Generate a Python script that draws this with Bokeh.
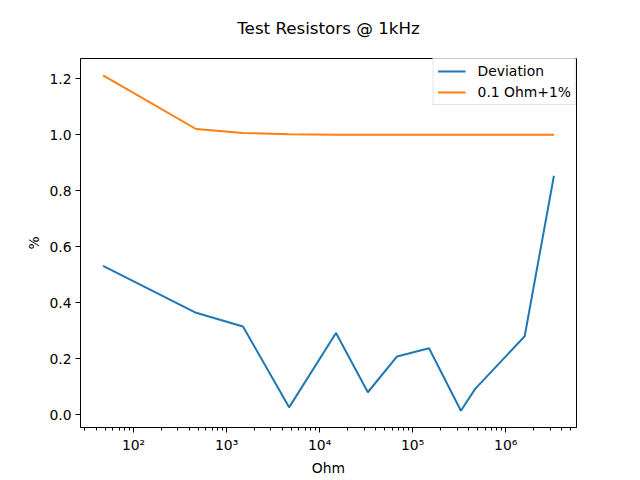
from bokeh.plotting import figure
from bokeh.models import Range1d, FixedTicker, Legend, LegendItem, PrintfTickFormatter, ColumnDataSource
from bokeh.embed import file_html
from bokeh.resources import INLINE

# Data
ohm = [47, 470, 1500, 4700, 15000, 33000, 68000, 150000, 330000, 470000, 1600000, 3300000]
deviation = [0.532, 0.364, 0.315, 0.026, 0.292, 0.080, 0.208, 0.237, 0.014, 0.092, 0.280, 0.854]
limit = [1.213, 1.021, 1.0067, 1.0021, 1.0007, 1.0003, 1.00015, 1.00007, 1.00003, 1.00002, 1.000006, 1.000003]

x_ticks = [100, 1000, 10000, 100000, 1000000]
x_tick_labels = ["10²", "10³", "10⁴", "10⁵", "10⁶"]
y_ticks = [0.0, 0.2, 0.4, 0.6, 0.8, 1.0, 1.2]
title_text = "Test Resistors @ 1kHz"

BLUE = "#1f77b4"
ORANGE = "#ff7f0e"
FONT = "DejaVu Sans"

p = figure(width=640, height=480, x_axis_type="log",
           x_range=Range1d(26.9, 5.77e6), y_range=Range1d(-0.046, 1.273),
           output_backend="svg", toolbar_location=None,
           min_border_left=80, min_border_right=64, min_border_top=58, min_border_bottom=53,
           background_fill_color="white", border_fill_color="white")

# a blank second line lifts the visible title line higher in its panel
p.title.text = title_text + "\n "
p.title.align = "center"
p.title.text_font = FONT
p.title.text_font_size = "16.7px"
p.title.text_font_style = "normal"
p.title.text_color = "black"
p.title.standoff = 1

src = ColumnDataSource(dict(ohm=ohm, deviation=deviation, limit=limit))
r1 = p.line("ohm", "deviation", source=src, line_color=BLUE, line_width=2)
r2 = p.line("ohm", "limit", source=src, line_color=ORANGE, line_width=2)

p.xgrid.visible = False
p.ygrid.visible = False
p.outline_line_color = "black"
p.outline_line_width = 1
p.outline_line_alpha = 1

minor = []
for d in [10, 100, 1000, 10000, 100000, 1000000]:
    for m in range(2, 10):
        minor.append(m * d)

xa = p.xaxis[0]
xa.ticker = FixedTicker(ticks=x_ticks, minor_ticks=minor)
xa.major_label_overrides = {t: l for t, l in zip(x_ticks, x_tick_labels)}
xa.axis_label = "Ohm"

ya = p.yaxis[0]
ya.ticker = FixedTicker(ticks=y_ticks)
ya.formatter = PrintfTickFormatter(format="%.1f")
ya.axis_label = "%"

for ax in (xa, ya):
    ax.major_tick_in = 0
    ax.major_tick_out = 5
    ax.minor_tick_in = 0
    ax.minor_tick_out = 3
    ax.axis_line_color = "black"
    ax.major_tick_line_color = "black"
    ax.minor_tick_line_color = "black"
    ax.major_label_text_font = FONT
    ax.major_label_text_font_size = "13.9px"
    ax.major_label_text_color = "black"
    ax.axis_label_text_font = FONT
    ax.axis_label_text_font_size = "13.9px"
    ax.axis_label_text_font_style = "normal"
    ax.axis_label_text_color = "black"
    ax.major_label_standoff = 4

ya.minor_tick_out = 0
xa.axis_label_standoff = 4
ya.axis_label_standoff = 4

legend = Legend(items=[LegendItem(label="Deviation", renderers=[r1]),
                       LegendItem(label="0.1 Ohm+1%", renderers=[r2])],
                location="top_right", margin=0, padding=4, spacing=5,
                glyph_width=28, glyph_height=16, label_height=16, label_standoff=12,
                label_text_font=FONT, label_text_font_size="13.9px", label_text_color="black",
                border_line_color="#cccccc", border_line_width=1,
                background_fill_color="white", background_fill_alpha=0.8)
p.add_layout(legend)

open("out.html", "w").write(file_html(p, INLINE))
